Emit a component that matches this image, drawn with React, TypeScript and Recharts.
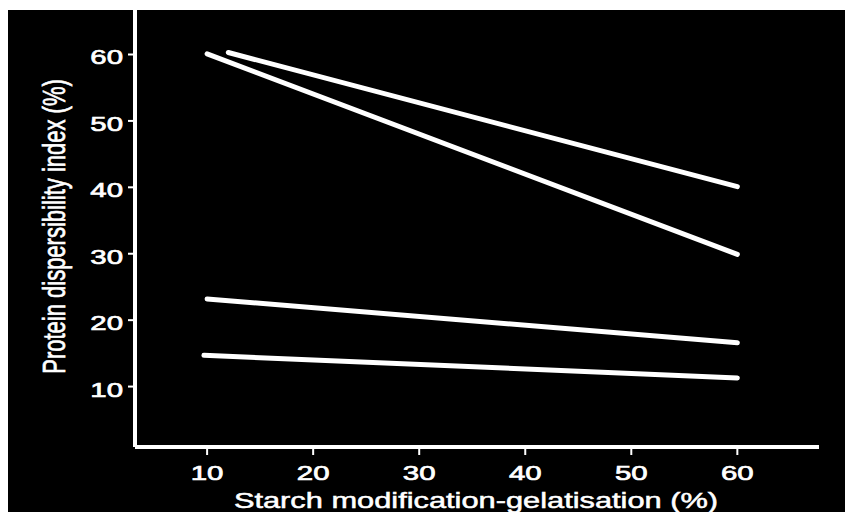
import { LineChart, Line, XAxis, YAxis } from "recharts";

// regression lines, one per formulation: [start, end] in (% gelatisation, PDI %)
const lineA = [{ x: 12, y: 60.3 }, { x: 60, y: 40.1 }];
const lineB = [{ x: 10, y: 60.1 }, { x: 60, y: 29.9 }];
const lineC = [{ x: 10, y: 23.2 }, { x: 60, y: 16.6 }];
const lineD = [{ x: 9.7, y: 14.7 }, { x: 60, y: 11.3 }];

const xTicks = [10, 20, 30, 40, 50, 60];
const yTicks = [10, 20, 30, 40, 50, 60];

const W = 845;
const H = 502;
const FONT = "'Liberation Sans', Arial, Helvetica, sans-serif";
// the printed figure is stretched sideways, so text gets a horizontal scale too
const STRETCH = 1.4;

const XTick = (props: any) => {
  const { x, payload } = props;
  return (
    <text
      transform={`translate(${x},470) scale(${STRETCH},1)`}
      textAnchor="middle"
      fill="#fff"
      stroke="#fff"
      strokeWidth={0.7}
      fontSize={21}
      fontFamily={FONT}
    >
      {payload.value}
    </text>
  );
};

const YTick = (props: any) => {
  const { y, payload } = props;
  return (
    <text
      transform={`translate(115,${y + 10}) scale(${STRETCH},1)`}
      textAnchor="end"
      fill="#fff"
      stroke="#fff"
      strokeWidth={0.7}
      fontSize={21}
      fontFamily={FONT}
    >
      {payload.value}
    </text>
  );
};

const series = [lineA, lineB, lineC, lineD];

export default function App() {
  return (
    <div style={{ paddingTop: 2 }}>
      <div style={{ position: "relative", width: W, height: H, background: "#000" }}>
        <LineChart width={W} height={H} margin={{ top: 0, right: 34, left: 0, bottom: 0 }}>
          <XAxis
            type="number"
            dataKey="x"
            domain={[3.2, 67.7]}
            ticks={xTicks}
            height={65}
            axisLine={{ stroke: "#fff", strokeWidth: 4 }}
            tickLine={{ stroke: "#fff", strokeWidth: 2 }}
            tickSize={8}
            tick={<XTick />}
            allowDataOverflow
          />
          <YAxis
            type="number"
            dataKey="y"
            domain={[0.9, 66.7]}
            ticks={yTicks}
            width={127}
            axisLine={{ stroke: "#fff", strokeWidth: 4 }}
            tickLine={{ stroke: "#fff", strokeWidth: 2 }}
            tickSize={7}
            tick={<YTick />}
            allowDataOverflow
          />
          {series.map((d, i) => (
            <Line
              key={i}
              data={d}
              dataKey="y"
              type="linear"
              stroke="#fff"
              strokeWidth={5}
              strokeLinecap="round"
              dot={false}
              activeDot={false}
              isAnimationActive={false}
            />
          ))}
        </LineChart>
        <svg
          width={W}
          height={H}
          style={{ position: "absolute", left: 0, top: 0, pointerEvents: "none" }}
        >
          <text
            transform={`translate(468,498) scale(${STRETCH},1)`}
            textAnchor="middle"
            fill="#fff"
            stroke="#fff"
            strokeWidth={0.5}
            fontSize={22}
            fontFamily={FONT}
          >
            Starch modification-gelatisation (%)
          </text>
          <text
            transform={`translate(57,216.5) scale(${STRETCH},1) rotate(-90)`}
            textAnchor="middle"
            fill="#fff"
            stroke="#fff"
            strokeWidth={0.5}
            fontSize={22}
            fontFamily={FONT}
          >
            Protein dispersibility index (%)
          </text>
        </svg>
      </div>
    </div>
  );
}
